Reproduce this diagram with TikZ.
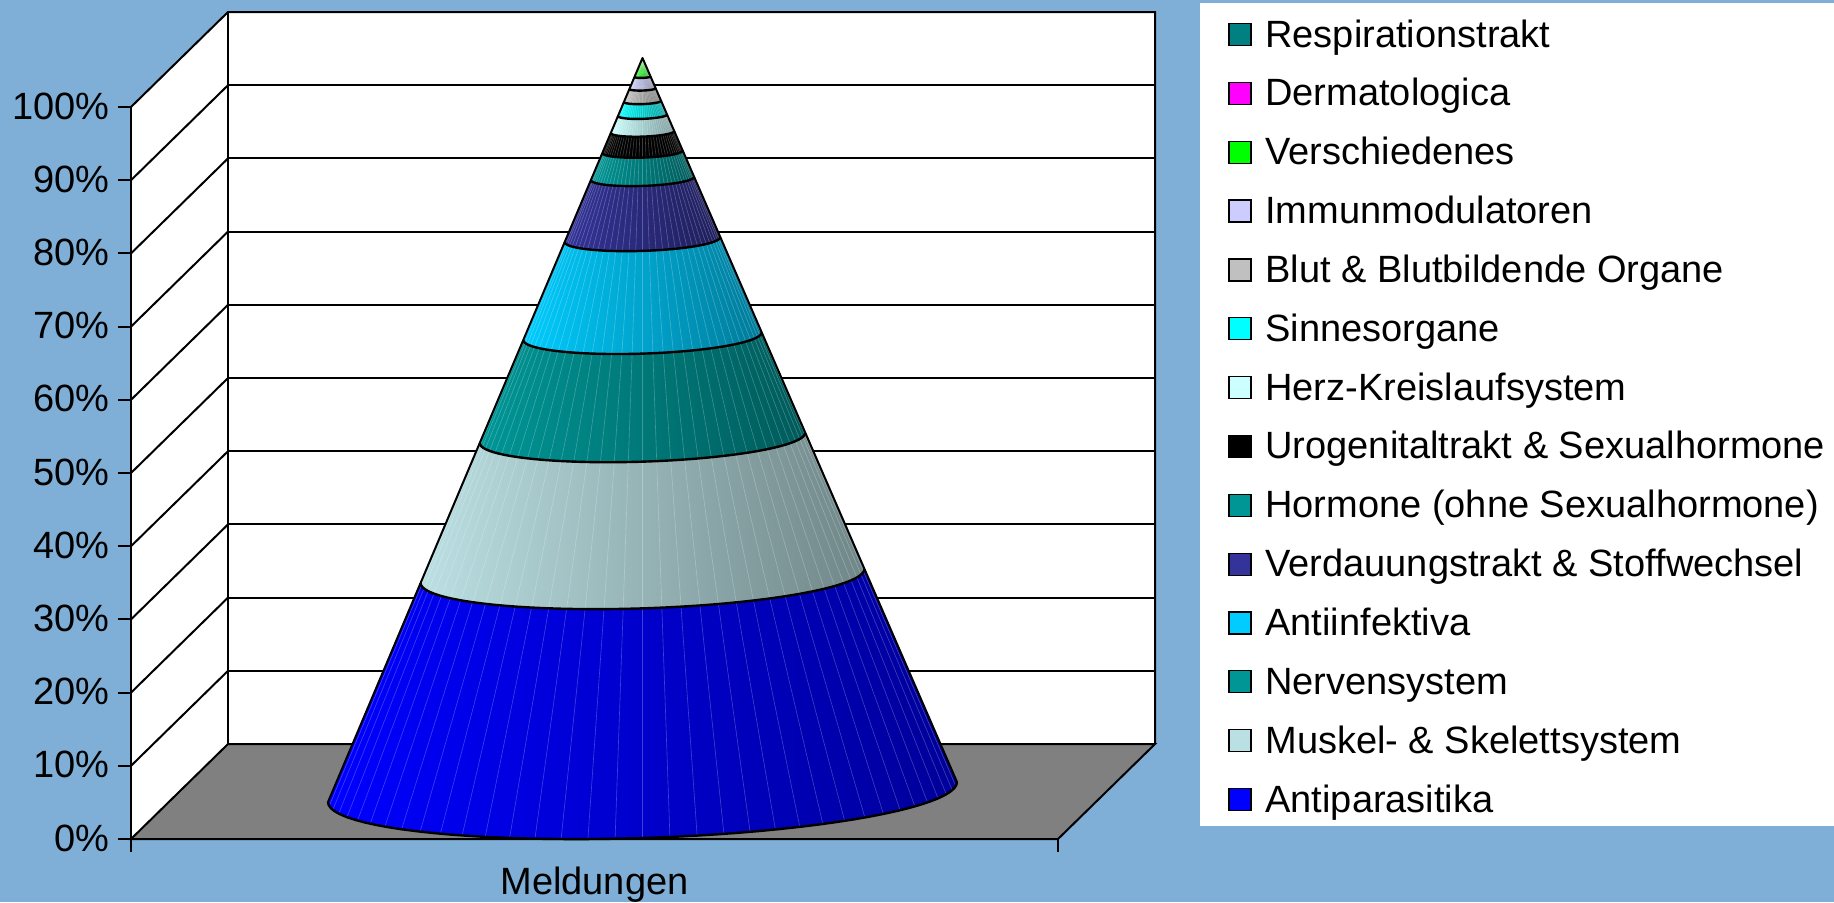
\documentclass[tikz,border=0pt]{standalone}
\usepackage{fontspec}
\setmainfont{Liberation Sans}

\definecolor{chartbg}{RGB}{127,175,214}
\definecolor{floorgray}{RGB}{128,128,128}
\definecolor{cAntipar}{RGB}{0,0,255}
\definecolor{cMuskel}{RGB}{187,224,227}
\definecolor{cNerven}{RGB}{0,150,150}
\definecolor{cAntiinf}{RGB}{0,204,255}
\definecolor{cVerdau}{RGB}{51,51,153}
\definecolor{cHormon}{RGB}{0,150,150}
\definecolor{cUro}{RGB}{0,0,0}
\definecolor{cHerz}{RGB}{204,255,255}
\definecolor{cSinne}{RGB}{0,255,255}
\definecolor{cBlut}{RGB}{192,192,192}
\definecolor{cImmun}{RGB}{204,204,255}
\definecolor{cVersch}{RGB}{0,255,0}
\definecolor{cDerma}{RGB}{255,0,255}
\definecolor{cRespir}{RGB}{0,128,128}

% cone slice between heights s1 (lower) and s2 (upper), s = 1 at the base, 0 at the tip
\newcommand{\coneband}[3]{%
\shade [left color=#3, right color=#3!60!black]
  plot[domain=0:180,samples=46] ({642.5-314.5*#1*cos(\x)},{58+734*#1+#1*(10*cos(\x)+46*sin(\x))})
  -- plot[domain=180:0,samples=46] ({642.5-314.5*#2*cos(\x)},{58+734*#2+#2*(10*cos(\x)+46*sin(\x))}) -- cycle;}
\newcommand{\conering}[1]{%
\draw [black, line width=1.2pt]
  plot[domain=0:180,samples=46] ({642.5-314.5*#1*cos(\x)},{58+734*#1+#1*(10*cos(\x)+46*sin(\x))});}

\begin{document}
\begin{tikzpicture}[x=0.5pt,y=-0.5pt]
\tikzstyle{every node}+=[inner sep=0pt, font=\fontsize{19}{22}\selectfont]
\tikzstyle{gridline}=[black, line width=1pt]
\tikzstyle{keybox}=[draw=black, line width=0.6pt]
\fill [chartbg] (0,0) rectangle (1834,902);
\useasboundingbox (0,0) rectangle (1834,902);
% walls and floor
\fill [white] (131,107) -- (228,12) -- (228,744) -- (131,839) -- cycle;
\fill [white] (228,12) rectangle (1155,744);
\draw [gridline] (228,670.8) -- (1155,670.8);
\draw [gridline] (228,597.6) -- (1155,597.6);
\draw [gridline] (228,524.4) -- (1155,524.4);
\draw [gridline] (228,451.2) -- (1155,451.2);
\draw [gridline] (228,378) -- (1155,378);
\draw [gridline] (228,304.8) -- (1155,304.8);
\draw [gridline] (228,231.6) -- (1155,231.6);
\draw [gridline] (228,158.4) -- (1155,158.4);
\draw [gridline] (228,85.2) -- (1155,85.2);
\draw [gridline] (131,765.8) -- (228,670.8);
\draw [gridline] (131,692.6) -- (228,597.6);
\draw [gridline] (131,619.4) -- (228,524.4);
\draw [gridline] (131,546.2) -- (228,451.2);
\draw [gridline] (131,473) -- (228,378);
\draw [gridline] (131,399.8) -- (228,304.8);
\draw [gridline] (131,326.6) -- (228,231.6);
\draw [gridline] (131,253.4) -- (228,158.4);
\draw [gridline] (131,180.2) -- (228,85.2);
\draw [gridline] (131,107) -- (228,12) -- (1155,12) -- (1155,744);
\draw [gridline] (228,12) -- (228,744);
\draw [gridline, fill=floorgray] (131,839) -- (1058,839) -- (1155,744) -- (228,744) -- cycle;
% axis and ticks
\draw [gridline] (131,107) -- (131,852);
\draw [gridline] (1058,839) -- (1058,852);
\draw [gridline] (118,839) -- (131,839);
\draw [gridline] (118,765.8) -- (131,765.8);
\draw [gridline] (118,692.6) -- (131,692.6);
\draw [gridline] (118,619.4) -- (131,619.4);
\draw [gridline] (118,546.2) -- (131,546.2);
\draw [gridline] (118,473) -- (131,473);
\draw [gridline] (118,399.8) -- (131,399.8);
\draw [gridline] (118,326.6) -- (131,326.6);
\draw [gridline] (118,253.4) -- (131,253.4);
\draw [gridline] (118,180.2) -- (131,180.2);
\draw [gridline] (118,107) -- (131,107);
% the cone
\coneband{1}{0.7056}{cAntipar}
\coneband{0.7056}{0.5175}{cMuskel}
\coneband{0.5175}{0.379}{cNerven}
\coneband{0.379}{0.2473}{cAntiinf}
\coneband{0.2473}{0.164}{cVerdau}
\coneband{0.164}{0.1277}{cHormon}
\coneband{0.1277}{0.1008}{cUro}
\coneband{0.1008}{0.078}{cHerz}
\coneband{0.078}{0.0591}{cSinne}
\coneband{0.0591}{0.0417}{cBlut}
\coneband{0.0417}{0.0255}{cImmun}
\coneband{0.0255}{0}{cVersch}
\foreach \a in {0,5,...,180}
  \draw [white, opacity=0.25, line width=0.3pt] ({642.5-314.5*cos(\a)},{792+10*cos(\a)+46*sin(\a)}) -- (642.5,58);
\conering{1}
\conering{0.7056}
\conering{0.5175}
\conering{0.379}
\conering{0.2473}
\conering{0.164}
\conering{0.1277}
\conering{0.1008}
\conering{0.078}
\conering{0.0591}
\conering{0.0417}
\conering{0.0255}
\draw [black, line width=1pt, line join=round] (328,802) -- (642.5,58) -- (957,782);
% axis labels
\node (lab0) at (110,851) [anchor=base east] {0\%};
\node (lab10) at (110,777.8) [anchor=base east] {10\%};
\node (lab20) at (110,704.6) [anchor=base east] {20\%};
\node (lab30) at (110,631.4) [anchor=base east] {30\%};
\node (lab40) at (110,558.2) [anchor=base east] {40\%};
\node (lab50) at (110,485) [anchor=base east] {50\%};
\node (lab60) at (110,411.8) [anchor=base east] {60\%};
\node (lab70) at (110,338.6) [anchor=base east] {70\%};
\node (lab80) at (110,265.4) [anchor=base east] {80\%};
\node (lab90) at (110,192.2) [anchor=base east] {90\%};
\node (lab100) at (110,119) [anchor=base east] {100\%};
\node (catMeld) at (594.5,894) [anchor=base] {Meldungen};
% legend
\fill [white] (1200,3) rectangle (1834,826);
\draw [keybox, fill=cRespir] (1229,23.5) rectangle (1251,45.5);
\node (lgRespir) at (1265,47) [anchor=base west] {Respirationstrakt};
\draw [keybox, fill=cDerma] (1229,82.35) rectangle (1251,104.35);
\node (lgDerma) at (1265,105.85) [anchor=base west] {Dermatologica};
\draw [keybox, fill=cVersch] (1229,141.2) rectangle (1251,163.2);
\node (lgVersch) at (1265,164.7) [anchor=base west] {Verschiedenes};
\draw [keybox, fill=cImmun] (1229,200.05) rectangle (1251,222.05);
\node (lgImmun) at (1265,223.55) [anchor=base west] {Immunmodulatoren};
\draw [keybox, fill=cBlut] (1229,258.9) rectangle (1251,280.9);
\node (lgBlut) at (1265,282.4) [anchor=base west] {Blut \& Blutbildende Organe};
\draw [keybox, fill=cSinne] (1229,317.75) rectangle (1251,339.75);
\node (lgSinne) at (1265,341.25) [anchor=base west] {Sinnesorgane};
\draw [keybox, fill=cHerz] (1229,376.6) rectangle (1251,398.6);
\node (lgHerz) at (1265,400.1) [anchor=base west] {Herz-Kreislaufsystem};
\draw [keybox, fill=cUro] (1229,435.45) rectangle (1251,457.45);
\node (lgUro) at (1265,458.95) [anchor=base west] {Urogenitaltrakt \& Sexualhormone};
\draw [keybox, fill=cHormon] (1229,494.3) rectangle (1251,516.3);
\node (lgHormon) at (1265,517.8) [anchor=base west] {Hormone (ohne Sexualhormone)};
\draw [keybox, fill=cVerdau] (1229,553.15) rectangle (1251,575.15);
\node (lgVerdau) at (1265,576.65) [anchor=base west] {Verdauungstrakt \& Stoffwechsel};
\draw [keybox, fill=cAntiinf] (1229,612) rectangle (1251,634);
\node (lgAntiinf) at (1265,635.5) [anchor=base west] {Antiinfektiva};
\draw [keybox, fill=cNerven] (1229,670.85) rectangle (1251,692.85);
\node (lgNerven) at (1265,694.35) [anchor=base west] {Nervensystem};
\draw [keybox, fill=cMuskel] (1229,729.7) rectangle (1251,751.7);
\node (lgMuskel) at (1265,753.2) [anchor=base west] {Muskel- \& Skelettsystem};
\draw [keybox, fill=cAntipar] (1229,788.55) rectangle (1251,810.55);
\node (lgAntipar) at (1265,812.05) [anchor=base west] {Antiparasitika};
\end{tikzpicture}
\end{document}
